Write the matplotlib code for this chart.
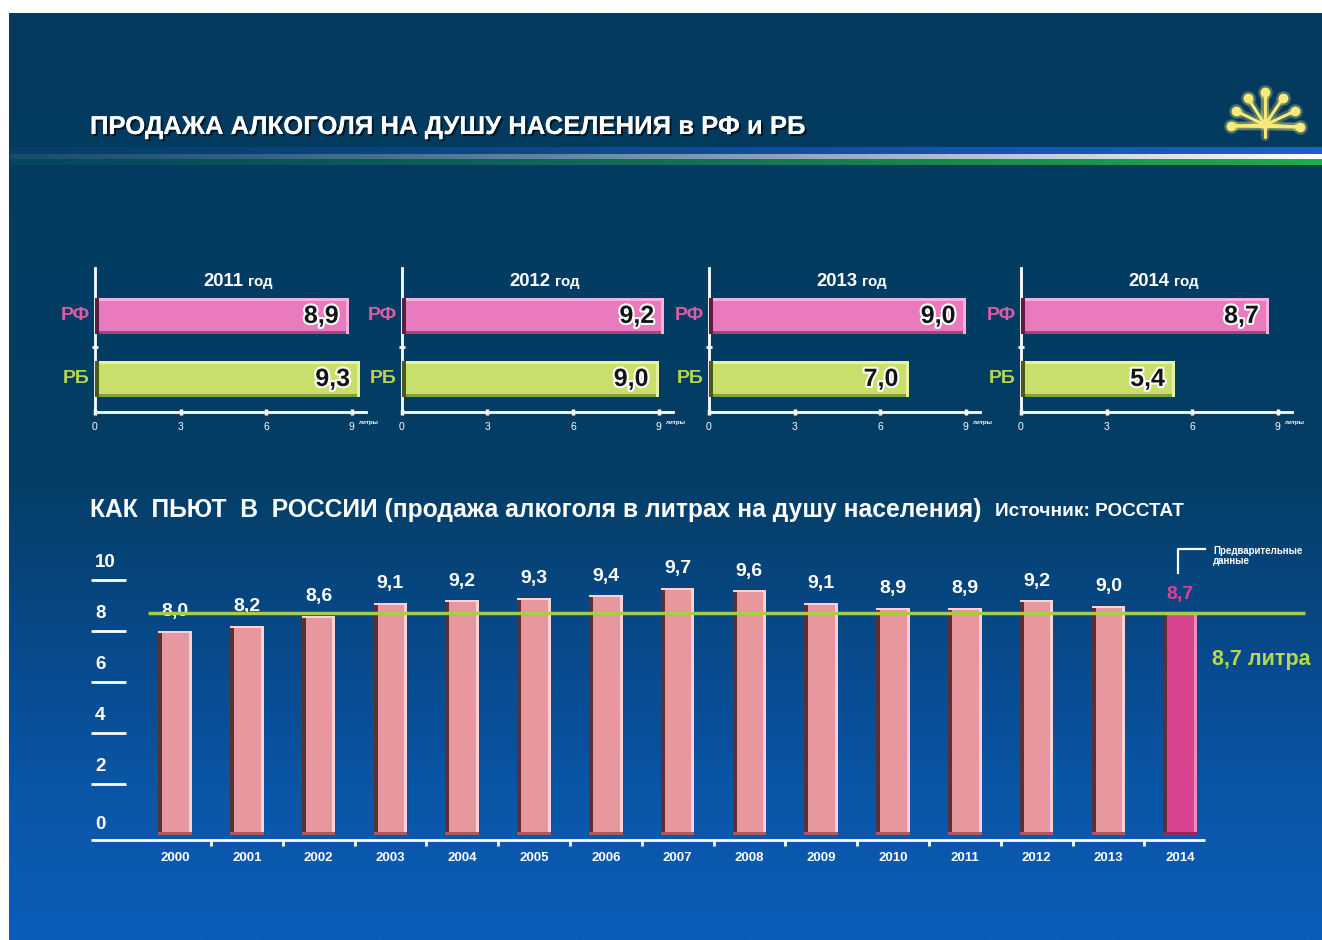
import matplotlib.pyplot as plt
import matplotlib.patheffects as pe
import numpy as np
from matplotlib.colors import LinearSegmentedColormap, to_rgb

plt.rcParams['font.family'] = ['Liberation Sans', 'DejaVu Sans']

W, H = 1322, 940

# --- data: top panels (RF vs RB by year) ---
panel_years = ['2011', '2012', '2013', '2014']
rf_values = [8.9, 9.2, 9.0, 8.7]
rb_values = [9.3, 9.0, 7.0, 5.4]
region_labels = ['РФ', 'РБ']
panel_ticks = [0, 3, 6, 9]

# --- data: Russia per capita sales 2000-2014 ---
years = ['2000', '2001', '2002', '2003', '2004', '2005', '2006', '2007',
         '2008', '2009', '2010', '2011', '2012', '2013', '2014']
russia_values = [8.0, 8.2, 8.6, 9.1, 9.2, 9.3, 9.4, 9.7, 9.6, 9.1, 8.9, 8.9, 9.2, 9.0, 8.7]
level_2014 = 8.7
y_ticks = [0, 2, 4, 6, 8, 10]


def fmt(v):
    return f'{v:.1f}'.replace('.', ',')


fig = plt.figure(figsize=(W / 100, H / 100), dpi=100)
fig.patch.set_facecolor('white')


def px_axes(x0, y0, x1, y1):
    return fig.add_axes([x0 / W, 1 - y1 / H, (x1 - x0) / W, (y1 - y0) / H])


# background gradient
bg = px_axes(9, 13, W, H)
bg_cmap = LinearSegmentedColormap.from_list(
    'bg', [(0, '#033a5d'), (0.5, '#043e66'), (0.68, '#08498a'), (0.85, '#0a56a8'), (1, '#0b5db8')])
bg.imshow(np.linspace(0, 1, 512).reshape(-1, 1), aspect='auto', cmap=bg_cmap,
          extent=[0, 1, 0, 1], origin='upper')
bg.axis('off')

# tricolour stripe under the title
st = px_axes(10, 146, W, 166)
rows = ['#0b3f66'] + ['#1d5fd0'] * 7 + ['#ffffff'] * 5 + ['#1fae4a'] * 6 + ['#0b3f66']
img = np.zeros((len(rows), 400, 4))
ramp = np.linspace(0.2, 1.0, 400) ** 1.5
for r, c in enumerate(rows):
    img[r, :, :3] = to_rgb(c)
    img[r, :, 3] = ramp if c != '#0b3f66' else 0
st.imshow(img, aspect='auto', extent=[0, 1, 0, 1], origin='upper')
st.axis('off')

# overlay in pixel coordinates for titles and decorations
ov = fig.add_axes([0, 0, 1, 1])
ov.set_xlim(0, W)
ov.set_ylim(H, 0)
ov.axis('off')
shadow = [pe.withSimplePatchShadow(offset=(1.5, -1.5), shadow_rgbFace='black', alpha=0.6), pe.Normal()]

ov.text(90, 127, 'ПРОДАЖА АЛКОГОЛЯ НА ДУШУ НАСЕЛЕНИЯ в РФ и РБ', va='center', ha='left',
        fontsize=18.5, weight='bold', color='white', path_effects=shadow)
ov.text(90, 510, 'КАК  ПЬЮТ  В  РОССИИ (продажа алкоголя в литрах на душу населения)',
        va='center', ha='left', fontsize=17.7, weight='bold', color='white')
ov.text(995, 512, 'Источник: РОССТАТ', va='center', ha='left', fontsize=13.7,
        weight='bold', color='white')

# logo (stylised kurai flower)
logo_col = '#f6ea7c'
ends = [(1265, 92), (1248, 98), (1283, 98), (1236, 111), (1295, 111), (1231, 126), (1300, 127)]
for lw, a in [(6, 0.25), (2.2, 1)]:
    ov.plot([1265, 1265], [92, 137], color=logo_col, lw=lw, alpha=a, solid_capstyle='round')
    ov.plot([1231, 1300], [126, 127], color=logo_col, lw=lw, alpha=a, solid_capstyle='round')
    for ex, ey in ends:
        ov.plot([1265, ex], [125, ey], color=logo_col, lw=lw, alpha=a, solid_capstyle='round')
ov.scatter([e[0] for e in ends], [e[1] for e in ends], s=110, color=logo_col, alpha=0.3, lw=0)
ov.scatter([e[0] for e in ends], [e[1] for e in ends], s=50, color=logo_col, lw=0)

# bracket for preliminary data
ov.plot([1178, 1178, 1205], [573, 549, 549], color='white', lw=1.6)
ov.text(1213, 556, 'Предварительные\nданные', ha='left', va='center', fontsize=7,
        weight='bold', color='white', linespacing=1.0)

# --- top panels ---
panel_x0 = [95, 402, 709, 1021]
unit = 28.5
rf_col, rb_col = '#e87abd', '#c9df6b'
bar_cols = {'РФ': (rf_col, '#f6b0da', '#a8437f', '#5a1f40'),
            'РБ': (rb_col, '#e6f2a6', '#879e3c', '#4a5a1e')}
label_cols = {'РФ': '#e05aa6', 'РБ': '#b8d44a'}
y_pos = [1, 0]
bh = 0.57
for i, yr in enumerate(panel_years):
    x0 = panel_x0[i]
    ax = px_axes(x0, 268, x0 + 9.5 * unit, 412)
    ax.set_xlim(0, 9.5)
    ax.set_ylim(-0.524, 1.76)
    ax.patch.set_alpha(0)
    vals = [rf_values[i], rb_values[i]]
    for lab, yp, v in zip(region_labels, y_pos, vals):
        base, light, dark, edge = bar_cols[lab]
        ax.barh(yp, v, height=bh, color=base, zorder=2)
        ax.barh(yp + bh / 2 - 0.045, v, height=0.045, color=light, align='edge', zorder=3)
        ax.barh(yp - bh / 2, v, height=0.05, color=dark, align='edge', zorder=3)
        ax.barh(yp - bh / 2, 0.14, height=bh, color=edge, align='edge', zorder=4)
        ax.barh(yp - bh / 2, 0.1, left=v - 0.1, height=bh, color=light, align='edge', zorder=4)
        ax.text(v - 10 / unit, yp, fmt(v), ha='right', va='center', fontsize=18,
                weight='bold', color='#141414', zorder=5,
                path_effects=[pe.withStroke(linewidth=3, foreground='white')])
        ax.text(-5 / unit, yp, lab, ha='right', va='center', fontsize=14, weight='bold',
                color=label_cols[lab], clip_on=False)
    ax.text(5.2, 1.476, yr, ha='right', va='baseline', fontsize=13.3, weight='bold', color='white')
    ax.text(5.36, 1.476, 'год', ha='left', va='baseline', fontsize=10.8, weight='bold', color='white')
    ax.text(9.25, -0.683, 'литры', ha='left', va='center', fontsize=4.5, weight='bold',
            color='white', clip_on=False)
    for s in ['top', 'right']:
        ax.spines[s].set_visible(False)
    for s in ['left', 'bottom']:
        ax.spines[s].set_color('white')
        ax.spines[s].set_linewidth(2)
    ax.set_xticks(panel_ticks)
    ax.set_xticklabels([str(t) for t in panel_ticks])
    ax.set_yticks([0.5])
    ax.set_yticklabels([''])
    ax.tick_params(axis='x', colors='white', direction='inout', length=5, width=2.5,
                   labelsize=7.5, pad=5)
    ax.tick_params(axis='y', colors='white', direction='inout', length=4, width=2)

# --- bottom chart ---
step, y_unit = 71.8, 25.5
ax2 = px_axes(91, 540, W, 850)
ax2.set_xlim((91 - 175) / step, (W - 175) / step)
ax2.set_ylim((835 - 850) / y_unit, (835 - 540) / y_unit)
ax2.patch.set_alpha(0)
ax2.axis('off')

x = np.arange(len(years))
vals = np.array(russia_values)
bw = 0.47
colors = ['#e8979f'] * (len(years) - 1) + ['#d9438f']
lights = ['#fbd2d6'] * (len(years) - 1) + ['#ee8cc0']
darks = ['#a85a62'] * (len(years) - 1) + ['#8e2a5e']
ax2.bar(x, vals, width=bw, color=colors, zorder=2)
ax2.bar(x - bw / 2, vals, width=4 / step, align='edge', color='#5a3036', zorder=3)
ax2.bar(x + bw / 2 - 3 / step, vals, width=3 / step, align='edge', color=lights, zorder=3)
ax2.bar(x, 3 / y_unit, width=bw, color=darks, zorder=3)
ax2.bar(x, 2 / y_unit, bottom=vals - 2 / y_unit, width=bw, color=lights, zorder=3)

for xi, v, c in zip(x, vals, ['white'] * (len(years) - 1) + ['#d9438f']):
    ax2.text(xi, v + 0.75, fmt(v), ha='center', va='center', fontsize=14,
             weight='bold', color=c, zorder=3)

ax2.hlines(level_2014, (148 - 175) / step, (1305 - 175) / step, color='#a8cb48', lw=2.5, zorder=5)
ax2.text((1212 - 175) / step, (835 - 660) / y_unit, f'{fmt(level_2014)} литра', ha='left',
         va='center', fontsize=15.5, weight='bold', color='#b7d84a')

base_y = -5 / y_unit
ax2.hlines(base_y, (91 - 175) / step, (1205 - 175) / step, color='white', lw=2)
ax2.vlines(x[:-1] + 0.5, base_y - 6 / y_unit, base_y, color='white', lw=2)
for xi, yr in zip(x, years):
    ax2.text(xi, (835 - 858) / y_unit, yr, ha='center', va='center', fontsize=9.5,
             weight='bold', color='white')

for t in y_ticks:
    if t > 0:
        ax2.hlines(t, (91 - 175) / step, (126 - 175) / step, color='white', lw=2)
        ax2.text((95 - 175) / step, t + 0.68, str(t), ha='left', va='center',
                 fontsize=13.5, weight='bold', color='white')
    else:
        ax2.text((95 - 175) / step, 0.4, str(t), ha='left', va='center',
                 fontsize=13.5, weight='bold', color='white')

fig.savefig('out.png', dpi=100)
